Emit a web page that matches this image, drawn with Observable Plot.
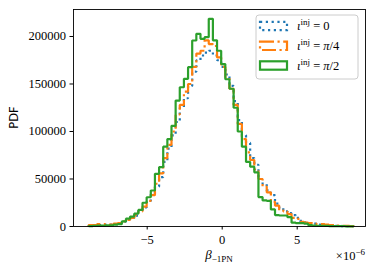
<!DOCTYPE html>
<html><head><meta charset="utf-8">
<script src="https://cdn.jsdelivr.net/npm/d3@7"></script>
<script src="https://cdn.jsdelivr.net/npm/@observablehq/plot@0.6"></script>
<style>
html,body{margin:0;padding:0;background:#fff;}
#chart{position:relative;width:374px;height:273px;overflow:hidden;}
#chart svg{display:block;}
#overlay{position:absolute;left:0;top:0;}
</style></head><body><div id="chart"></div>
<script>
// histogram bins (x in units of 1e-6)
const binStart = -8.9;
const binWidth = 0.276;
// PDF values per bin
const iota0 = [1000,1200,1500,1500,2000,2000,2500,3500,5000,7500,9000,11500,16500,20000,26000,34000,42000,52000,68000,82000,96000,110000,125000,135000,148000,163000,175000,180000,183000,185000,180000,175000,168000,160000,148000,132000,112000,96000,88000,72000,65000,50000,45000,38000,33000,24000,20000,16000,14000,12000,9000,6000,4500,3500,3000,2000,1500,1500,1000,800,600,500,400,300];
const iotaPi4 = [1500,1500,2500,2500,2000,2000,3000,3500,5500,7000,9000,12000,16000,21000,27000,33000,45000,56000,72000,86000,100000,118000,128000,142000,150000,168000,182000,185000,196000,192000,190000,178000,168000,157000,145000,128000,108000,92000,78000,70000,60000,50000,42000,36000,26000,22000,17000,16000,13000,9000,8000,5000,4000,3500,3000,2500,2500,2000,1500,1500,1000,800,600,500];
const iotaPi2 = [500,800,1000,1000,1200,1200,2000,2500,5300,8200,10500,13500,17500,25000,30800,37900,55500,62400,84000,92000,106000,132600,146600,155500,167700,195800,202800,197600,199300,218600,196000,185000,171000,155000,145000,125000,100000,84000,68000,63000,57000,31000,27500,27000,18000,12000,11600,11600,9800,4000,3500,3500,3000,1500,1000,800,800,600,500,500,400,300,200,200];
const seriesLabels = ["0", "π/4", "π/2"];
const seriesColors = ["#1f77b4", "#ff7f0e", "#2ca02c"];
const seriesDash = ["2.2,3.6", "14,3.5,2.2,3.5", "none"];
const xTicks = [-5, 0, 5];
const yTicks = [0, 50000, 100000, 150000, 200000];

function outline(vals) {
  const pts = [{x: binStart, y: 0}];
  vals.forEach((v, i) => {
    const a = binStart + i * binWidth, b = a + binWidth;
    pts.push({x: a, y: v}, {x: b, y: v});
  });
  pts.push({x: binStart + vals.length * binWidth, y: 0});
  return pts;
}
const seriesData = [iota0, iotaPi4, iotaPi2].map(outline);

const W = 374, H = 273, mL = 73, mR = 9, mT = 9, mB = 47;
const serif = "Liberation Serif, Times New Roman, serif";

const plot = Plot.plot({
  width: W, height: H,
  marginLeft: mL, marginRight: mR, marginTop: mT, marginBottom: mB,
  style: {fontFamily: serif, fontSize: "12.5px", background: "white", color: "black"},
  x: {domain: [-9.913, 9.553]},
  y: {domain: [0, 228421]},
  marks: [
    ...seriesData.map((d, k) => Plot.line(d, {
      x: "x", y: "y", stroke: seriesColors[k], strokeWidth: 2.2,
      strokeDasharray: seriesDash[k], strokeLinecap: "butt", strokeLinejoin: "miter"
    })),
    Plot.frame({stroke: "black", strokeWidth: 0.9}),
    Plot.axisX({ticks: xTicks, tickSize: 3.5, tickPadding: 5, label: null,
      tickFormat: d => d < 0 ? "\u2212" + Math.abs(d) : String(d)}),
    Plot.axisY({ticks: yTicks, tickSize: 3.5, tickPadding: 4, label: null,
      tickFormat: d => String(d)})
  ]
});
document.getElementById("chart").appendChild(plot);
d3.select(plot).selectAll("text").attr("font-family", serif).style("font-family", serif)
  .attr("font-size", 12.5).attr("font-variant", "normal");

// overlay: axis titles, offset text, legend
const svg = d3.select("#chart").append("svg").attr("id", "overlay")
  .attr("width", W).attr("height", H);

svg.append("text").attr("transform", `translate(18,${(mT + H - mB) / 2}) rotate(-90)`)
  .attr("text-anchor", "middle").attr("font-family", "DejaVu Sans, sans-serif")
  .attr("font-size", 11.5).text("PDF");

const xl = svg.append("text").attr("x", (mL + W - mR) / 2).attr("y", 259)
  .attr("text-anchor", "middle").attr("font-family", serif).attr("font-size", 13);
xl.append("tspan").attr("font-style", "italic").text("β");
xl.append("tspan").attr("font-size", 9).attr("dy", 3).text("\u22121PN");

const off = svg.append("text").attr("x", W - mR).attr("y", 260)
  .attr("text-anchor", "end").attr("font-family", serif).attr("font-size", 12.5);
off.append("tspan").text("×10");
off.append("tspan").attr("font-size", 9).attr("dy", -5).text("\u22126");

// legend
const lg = svg.append("g");
lg.append("rect").attr("x", 256).attr("y", 15).attr("width", 102).attr("height", 64)
  .attr("rx", 3).attr("fill", "white").attr("fill-opacity", 0.8)
  .attr("stroke", "#cccccc").attr("stroke-width", 1);
const rowY = [26, 45.8, 65.5];
seriesLabels.forEach((lab, k) => {
  lg.append("rect").attr("x", 260).attr("y", rowY[k] - 4.2).attr("width", 27).attr("height", 8.4)
    .attr("fill", "none").attr("stroke", seriesColors[k]).attr("stroke-width", 2.2)
    .attr("stroke-dasharray", seriesDash[k]).attr("stroke-linecap", "butt");
  const t = lg.append("text").attr("x", 297).attr("y", rowY[k] + 4)
    .attr("font-family", serif).attr("font-size", 12.5);
  t.append("tspan").attr("font-style", "italic").text("ι");
  t.append("tspan").attr("font-size", 9).attr("dy", -5).text("inj");
  t.append("tspan").attr("dy", 5).text(" = ");
  if (lab === "0") t.append("tspan").text("0");
  else { t.append("tspan").attr("font-style", "italic").text("π"); t.append("tspan").text(lab.slice(1)); }
});
</script></body></html>
